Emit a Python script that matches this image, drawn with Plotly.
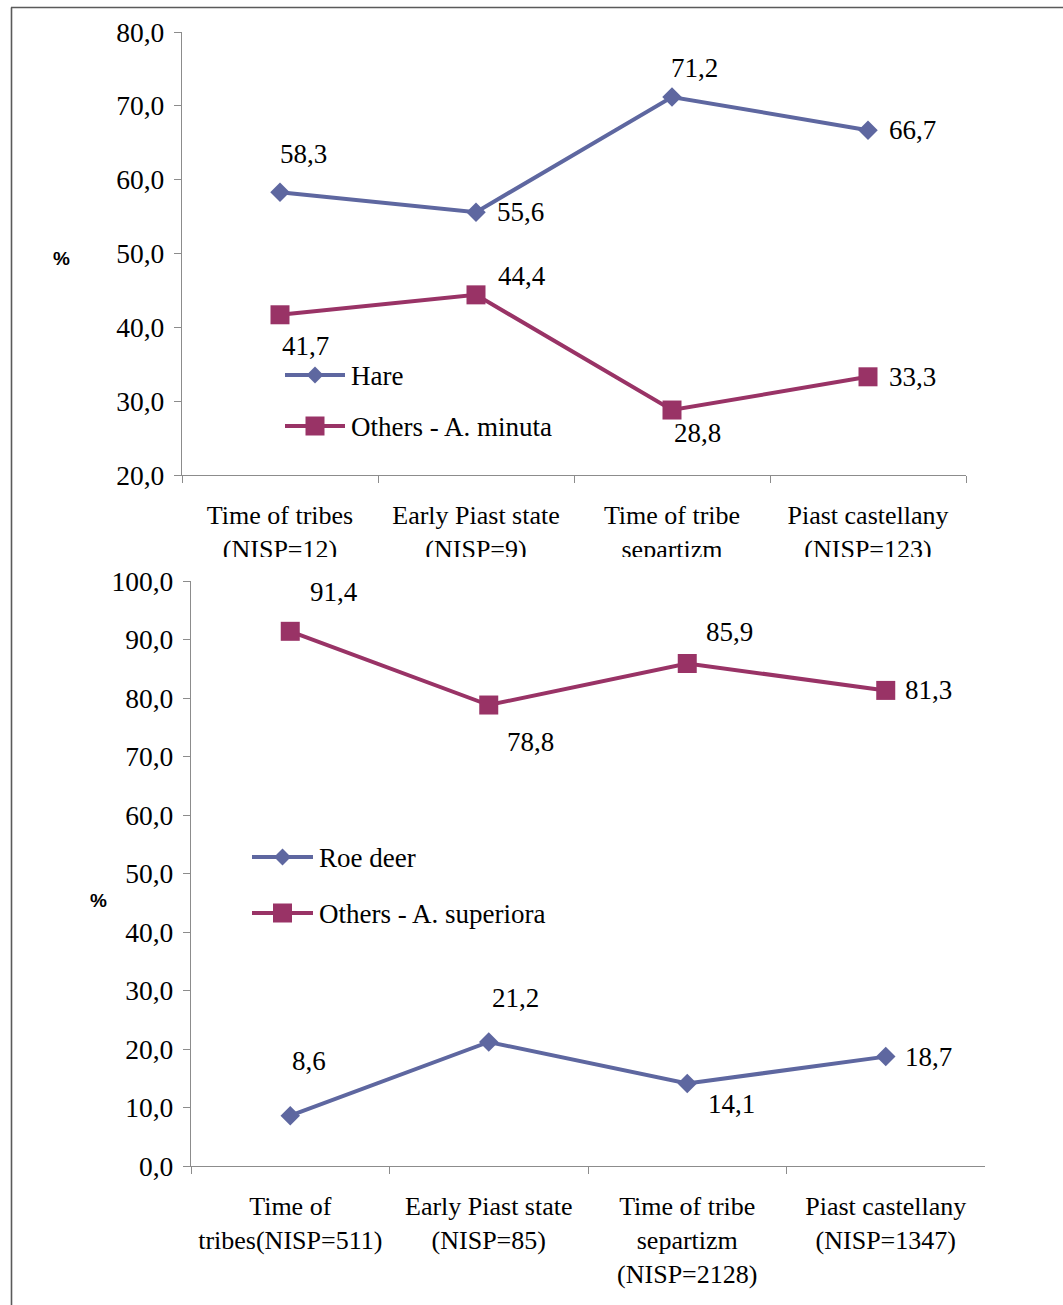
import plotly.graph_objects as go

W, H = 1063, 1305

# ---- data -------------------------------------------------------------
periods_top = [
    "Time of tribes<br>(NISP=12)",
    "Early Piast state<br>(NISP=9)",
    "Time of tribe<br>separtizm",
    "Piast castellany<br>(NISP=123)",
]
hare = [58.3, 55.6, 71.2, 66.7]
others_minuta = [41.7, 44.4, 28.8, 33.3]

periods_bottom = [
    "Time of<br>tribes(NISP=511)",
    "Early Piast state<br>(NISP=85)",
    "Time of tribe<br>separtizm<br>(NISP=2128)",
    "Piast castellany<br>(NISP=1347)",
]
roe_deer = [8.6, 21.2, 14.1, 18.7]
others_superiora = [91.4, 78.8, 85.9, 81.3]

# ---- styling ----------------------------------------------------------
BLUE = "#5E67A0"
PLUM = "#993366"
AXIS = "#8C8C8C"
SERIF = "Liberation Serif, Times New Roman, serif"
FS = 27

# value-label offsets in pixels (dx right, dy down) per point
off_hare = [(23, -38), (44, 0), (22, -29), (44, 0)]
off_minuta = [(25, 31), (46, -19), (25, 23), (44, 0)]
off_superiora = [(44, -39), (42, 37), (42, -31), (43, 0)]
off_roe = [(19, -55), (27, -44), (44, 20), (43, 0)]


def fmt(v):
    return f"{v:.1f}".replace(".", ",")


fig = go.Figure()


def add_series(x, y, color, symbol, size, xa, ya, name):
    fig.add_trace(go.Scatter(
        x=x, y=y, name=name, mode="lines+markers",
        line=dict(color=color, width=4),
        marker=dict(symbol=symbol, size=size, color=color, line=dict(width=0)),
        xaxis=xa, yaxis=ya, showlegend=False, cliponaxis=False,
    ))


add_series(periods_top, hare, BLUE, "diamond", 15, "x", "y", "Hare")
add_series(periods_top, others_minuta, PLUM, "square", 19, "x", "y", "Others - A. minuta")
add_series(periods_bottom, roe_deer, BLUE, "diamond", 15, "x2", "y2", "Roe deer")
add_series(periods_bottom, others_superiora, PLUM, "square", 19, "x2", "y2", "Others - A. superiora")

annotations = []


def add_labels(x, y, offs, xr, yr):
    for xi, yi, (dx, dy) in zip(x, y, offs):
        annotations.append(dict(
            x=xi, y=yi, xref=xr, yref=yr, text=fmt(yi), showarrow=False,
            xanchor="center", yanchor="middle", xshift=dx, yshift=-dy,
            font=dict(family=SERIF, size=FS, color="black"),
        ))


add_labels(periods_top, hare, off_hare, "x", "y")
add_labels(periods_top, others_minuta, off_minuta, "x", "y")
add_labels(periods_bottom, others_superiora, off_superiora, "x2", "y2")
add_labels(periods_bottom, roe_deer, off_roe, "x2", "y2")

# "%" axis captions
for px, py in [(61, 258), (98, 900)]:
    annotations.append(dict(
        x=px, y=py, xref="x3", yref="y3", text="<b>%</b>", showarrow=False,
        xanchor="center", yanchor="middle",
        font=dict(family="Liberation Sans, Arial, sans-serif", size=19, color="black"),
    ))

# legends (sample line with marker in the middle, label to the right)
legend_items = [
    (285, 345, 375, BLUE, "diamond", 13, "Hare"),
    (285, 345, 426, PLUM, "square", 19, "Others - A. minuta"),
    (252, 313, 857, BLUE, "diamond", 13, "Roe deer"),
    (252, 313, 913, PLUM, "square", 19, "Others - A. superiora"),
]
for x0, x1, ly, color, symbol, size, label in legend_items:
    fig.add_trace(go.Scatter(
        x=[x0, x1], y=[ly, ly], mode="lines", line=dict(color=color, width=4),
        xaxis="x3", yaxis="y3", showlegend=False, hoverinfo="skip",
    ))
    fig.add_trace(go.Scatter(
        x=[(x0 + x1) / 2], y=[ly], mode="markers",
        marker=dict(symbol=symbol, size=size, color=color, line=dict(width=0)),
        xaxis="x3", yaxis="y3", showlegend=False, hoverinfo="skip",
    ))
    annotations.append(dict(
        x=x1 + 4, y=ly + 1, xref="x3", yref="y3", text=label, showarrow=False,
        xanchor="left", yanchor="middle",
        font=dict(family=SERIF, size=FS, color="black"),
    ))

shapes = [
    # the lower chart sits over the wrapped category labels of the upper one
    dict(type="rect", xref="x3", yref="y3", x0=150, x1=W, y0=557, y1=569,
         fillcolor="white", line=dict(width=0), layer="above"),
    # outer frame
    dict(type="line", xref="x3", yref="y3", x0=11.5, x1=11.5, y0=7.5, y1=H,
         line=dict(color="#5A5A5A", width=1.6), layer="above"),
    dict(type="line", xref="x3", yref="y3", x0=11, x1=W, y0=7.5, y1=7.5,
         line=dict(color="#5A5A5A", width=1.6), layer="above"),
]

xcommon = dict(
    type="category", range=[-0.5, 3.5], showline=True, linecolor=AXIS, linewidth=1.3,
    ticks="outside", tickson="boundaries", ticklen=7, tickcolor=AXIS, tickwidth=1.3,
    showgrid=False, zeroline=False, ticklabelstandoff=17, automargin=False,
    tickfont=dict(family=SERIF, size=26, color="black"),
)
ycommon = dict(
    dtick=10, tickformat=".1f", showline=True, linecolor=AXIS, linewidth=1.3,
    ticks="outside", ticklen=7, tickcolor=AXIS, tickwidth=1.3,
    showgrid=False, zeroline=False, ticklabelstandoff=4, automargin=False,
    tickfont=dict(family=SERIF, size=27.5, color="black"),
)

fig.update_layout(
    width=W, height=H,
    margin=dict(l=0, r=0, t=0, b=0, pad=0, autoexpand=False),
    paper_bgcolor="white", plot_bgcolor="rgba(0,0,0,0)",
    separators=", ",
    showlegend=False,
    xaxis=dict(xcommon, domain=[182 / W, 966 / W], anchor="y"),
    yaxis=dict(ycommon, domain=[1 - 475 / H, 1 - 32 / H], range=[20, 80], anchor="x"),
    xaxis2=dict(xcommon, domain=[191 / W, 985 / W], anchor="y2"),
    yaxis2=dict(ycommon, domain=[1 - 1166 / H, 1 - 581 / H], range=[0, 100], anchor="x2"),
    xaxis3=dict(domain=[0, 1], range=[0, W], visible=False, anchor="y3", fixedrange=True),
    yaxis3=dict(domain=[0, 1], range=[H, 0], visible=False, anchor="x3", fixedrange=True),
    annotations=annotations,
    shapes=shapes,
)

fig.write_html("out.html")
